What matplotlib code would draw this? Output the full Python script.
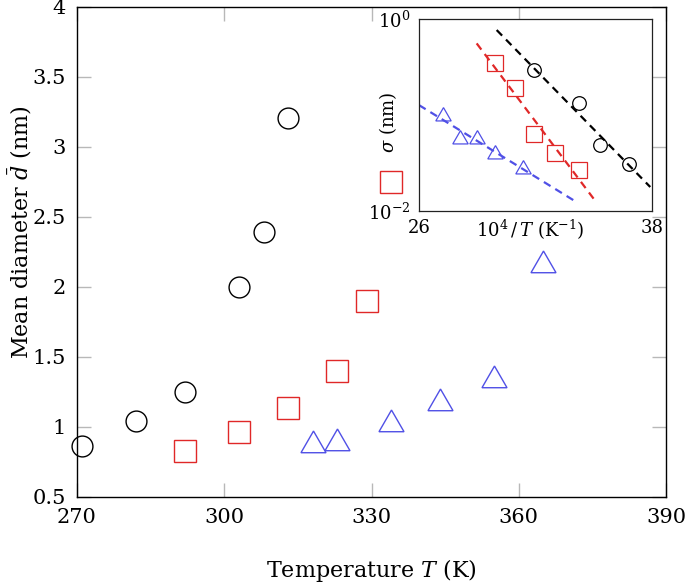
import matplotlib
matplotlib.use("Agg")
import matplotlib.pyplot as plt
import numpy as np

plt.rcParams['font.family'] = ['DejaVu Serif']
plt.rcParams['mathtext.fontset'] = 'dejavuserif'

# main panel: mean diameter vs temperature
T_circ = [271, 282, 292, 303, 308, 313]
d_circ = [0.864, 1.04, 1.248, 1.998, 2.395, 3.21]
T_sq = [292, 303, 313, 323, 329, 334]
d_sq = [0.831, 0.966, 1.138, 1.40, 1.90, 2.75]
T_tri = [318, 323, 334, 344, 355, 365]
d_tri = [0.868, 0.887, 1.018, 1.168, 1.335, 2.155]

# inset: sigma vs 1e4/T (log10 of sigma)
x_circ_in = [31.90, 34.22, 35.33, 36.79]
logs_circ_in = [-0.532, -0.880, -1.315, -1.506]
x_sq_in = [29.92, 30.95, 31.90, 33.01, 34.22]
logs_sq_in = [-0.462, -0.723, -1.193, -1.401, -1.575]
x_tri_in = [27.25, 28.11, 28.97, 29.92, 31.38]
logs_tri_in = [-1.010, -1.254, -1.254, -1.411, -1.567]

# dashed fits (end points)
fit_black_x = [30.0, 37.91]
fit_black_log = [-0.115, -1.75]
fit_red_x = [28.97, 34.99]
fit_red_log = [-0.254, -1.871]
fit_blue_x = [26.0, 33.96]
fit_blue_log = [-0.897, -1.888]

red = '#e02828'
blue = '#5050e6'
tri = (3, 0, 0)  # equilateral triangle, point up

fig = plt.figure(figsize=(6.85, 5.86), dpi=100)
ax = fig.add_axes([77 / 685, 1 - 497 / 586, (666 - 77) / 685, (497 - 7) / 586])

ax.plot(T_circ, d_circ, ls='none', marker='o', ms=15, mfc='none', mec='black', mew=1.0, clip_on=False)
ax.plot(T_sq, d_sq, ls='none', marker='s', ms=15.5, mfc='none', mec=red, mew=1.0, clip_on=False)
ax.plot(T_tri, d_tri, ls='none', marker=tri, ms=20.8, mfc='none', mec=blue, mew=1.0, clip_on=False)

ax.set_xlim(270, 390)
ax.set_ylim(0.5, 4)
ax.set_xticks([270, 300, 330, 360, 390])
ax.set_yticks([0.5, 1, 1.5, 2, 2.5, 3, 3.5, 4])
ax.set_yticklabels(['0.5', '1', '1.5', '2', '2.5', '3', '3.5', '4'])
ax.tick_params(direction='in', length=10, width=1, color='#b8b8b8', labelsize=15,
               pad=8, top=True, right=True)
for s in ax.spines.values():
    s.set_linewidth(1.0)
ax.set_xlabel('Temperature $T$ (K)', fontsize=16, va='center')
ax.xaxis.set_label_coords(0.5, -0.149)
ax.set_ylabel(r'Mean diameter $\bar{d}$ (nm)', fontsize=16, va='center')
ax.yaxis.set_label_coords(-0.097, 0.54)

# inset
axi = fig.add_axes([419 / 685, 1 - 211 / 586, (652 - 419) / 685, (211 - 19) / 586])
axi.set_facecolor('white')
axi.plot(fit_black_x, 10 ** np.array(fit_black_log), ls=(0, (3.5, 2.5)), color='black', lw=1.6)
axi.plot(fit_red_x, 10 ** np.array(fit_red_log), ls=(0, (3.5, 2.5)), color=red, lw=1.6)
axi.plot(fit_blue_x, 10 ** np.array(fit_blue_log), ls=(0, (3.5, 2.5)), color=blue, lw=1.6)
axi.plot(x_circ_in, 10 ** np.array(logs_circ_in), ls='none', marker='o', ms=9.8, mfc='none', mec='black', mew=0.9)
axi.plot(x_sq_in, 10 ** np.array(logs_sq_in), ls='none', marker='s', ms=11, mfc='none', mec=red, mew=0.9)
axi.plot(x_tri_in, 10 ** np.array(logs_tri_in), ls='none', marker=tri, ms=12.8, mfc='none', mec=blue, mew=0.9)

axi.set_xlim(26, 38)
axi.set_yscale('log')
axi.set_ylim(1e-2, 1)
axi.set_xticks([26, 38])
axi.set_yticks([1e-2, 1])
axi.set_yticklabels([r'$10^{-2}$', r'$10^{0}$'])
axi.minorticks_off()
axi.tick_params(length=0, labelsize=13, pad=6)
for s in axi.spines.values():
    s.set_linewidth(0.9)
    s.set_color('#222222')
axi.set_xlabel(r'$10^4\,/\,T$ (K$^{-1}$)', fontsize=13, va='center')
axi.xaxis.set_label_coords(0.476, -0.10)
axi.set_ylabel(r'$\sigma$ (nm)', fontsize=13, va='center')
axi.yaxis.set_label_coords(-0.133, 0.46)

fig.savefig('out.png', dpi=100)
